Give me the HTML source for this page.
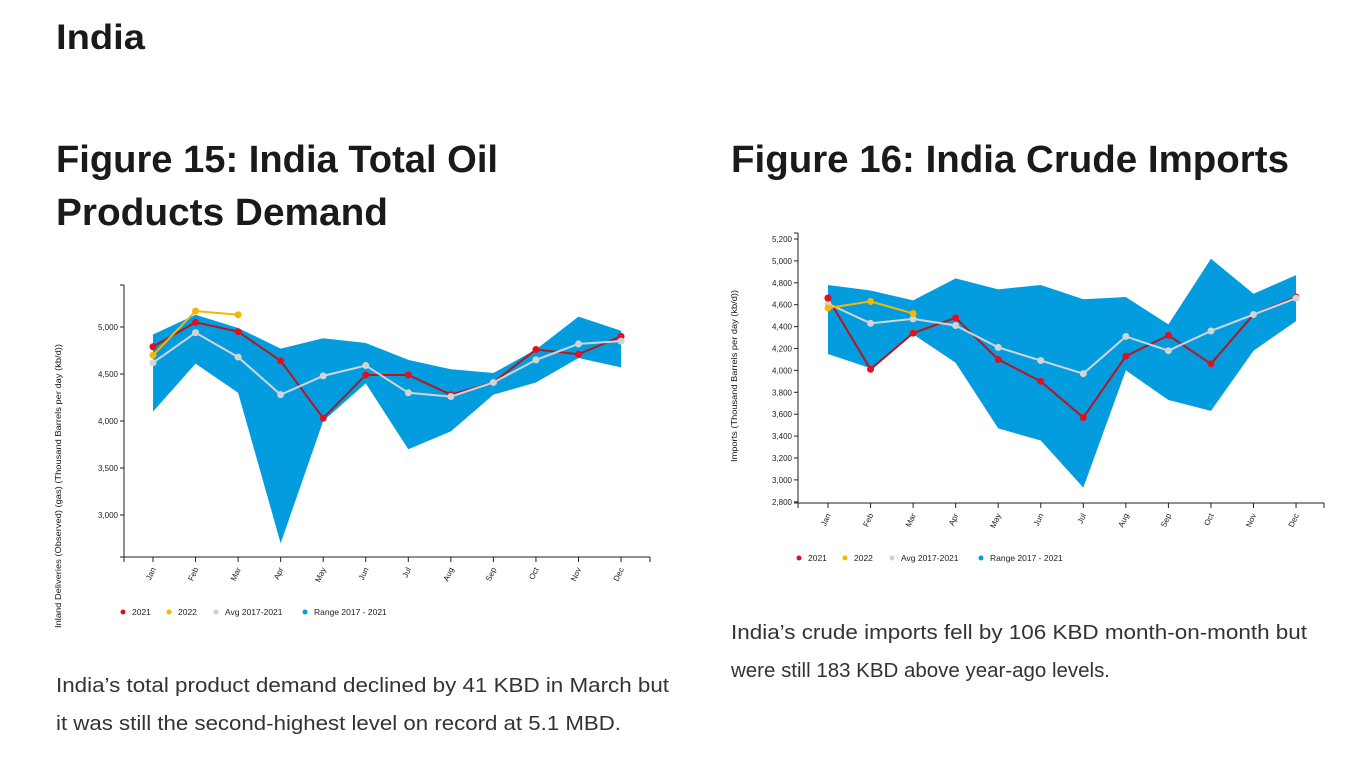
<!DOCTYPE html>
<html><head><meta charset="utf-8"><style>
html,body{margin:0;padding:0;background:#fff;}
svg{display:block;font-family:"Liberation Sans",sans-serif;}
</style></head><body>
<svg id="page" width="1358" height="777" viewBox="0 0 1358 777">
<text x="56" y="49" font-size="35" font-weight="bold" fill="#1a1a1a" textLength="89" lengthAdjust="spacingAndGlyphs">India</text>
<text x="56" y="172" font-size="38" font-weight="bold" fill="#1a1a1a" textLength="442" lengthAdjust="spacingAndGlyphs">Figure 15: India Total Oil</text>
<text x="56" y="225" font-size="38" font-weight="bold" fill="#1a1a1a" textLength="332" lengthAdjust="spacingAndGlyphs">Products Demand</text>
<text x="731" y="172" font-size="38" font-weight="bold" fill="#1a1a1a" textLength="558" lengthAdjust="spacingAndGlyphs">Figure 16: India Crude Imports</text>
<text x="56" y="692" font-size="20" fill="#333" textLength="613" lengthAdjust="spacingAndGlyphs">India’s total product demand declined by 41 KBD in March but</text>
<text x="56" y="730" font-size="20" fill="#333" textLength="565" lengthAdjust="spacingAndGlyphs">it was still the second-highest level on record at 5.1 MBD.</text>
<text x="731" y="639" font-size="20" fill="#333" textLength="576" lengthAdjust="spacingAndGlyphs">India’s crude imports fell by 106 KBD month-on-month but</text>
<text x="731" y="677" font-size="20" fill="#333" textLength="379" lengthAdjust="spacingAndGlyphs">were still 183 KBD above year-ago levels.</text>
<g id="chart1"></g>
<g id="chart2"></g>
</svg>
<script>
const months = ["Jan","Feb","Mar","Apr","May","Jun","Jul","Aug","Sep","Oct","Nov","Dec"];
// Chart 1: demand
const c1Upper = [4920,5130,4990,4770,4880,4830,4650,4550,4510,4760,5110,4960];
const c1Lower = [4100,4610,4300,2700,4000,4400,3700,3890,4280,4410,4670,4570];
const c1Y2021 = [4790,5050,4950,4640,4030,4490,4490,4280,4410,4760,4710,4900];
const c1Y2022 = [4700,5170,5130];
const c1Avg = [4620,4940,4680,4280,4480,4590,4300,4260,4410,4650,4820,4850];
const c1Ticks = [3000,3500,4000,4500,5000];
// Chart 2: imports
const c2Upper = [4780,4730,4640,4840,4740,4780,4650,4670,4420,5020,4700,4870];
const c2Lower = [4150,4020,4330,4070,3470,3360,2930,4000,3730,3630,4180,4450];
const c2Y2021 = [4660,4010,4340,4480,4100,3900,3570,4130,4320,4060,4510,4670];
const c2Y2022 = [4570,4630,4520];
const c2Avg = [4610,4430,4470,4410,4210,4090,3970,4310,4180,4360,4510,4660];
const c2Ticks = [2800,3000,3200,3400,3600,3800,4000,4200,4400,4600,4800,5000,5200];
const legendLabels = ["2021","2022","Avg 2017-2021","Range 2017 - 2021"];
const legendColors = ["#e3101c","#f5b800","#d0d0d0","#039ddf"];

const NS="http://www.w3.org/2000/svg";
function mk(parent,tag,attrs){const e=document.createElementNS(NS,tag);for(const k in attrs)e.setAttribute(k,attrs[k]);parent.appendChild(e);return e;}

function drawChart(g,cfg){
  const xS=i=>cfg.x0+i*cfg.step;
  const yS=v=>cfg.yRef+(cfg.vRef-v)*cfg.pxPer;
  let d="M"+cfg.upper.map((v,i)=>xS(i)+","+yS(v)).join("L");
  for(let i=cfg.lower.length-1;i>=0;i--) d+="L"+xS(i)+","+yS(cfg.lower[i]);
  const area=mk(g,"path",{d:d+"Z",fill:"#039ddf"});
  
  
  function series(vals,color,name,lineColor){
    const l=mk(g,"polyline",{points:vals.map((v,i)=>xS(i)+","+yS(v)).join(" "),fill:"none",stroke:lineColor||color,"stroke-width":2});
    
    
    vals.forEach((v,i)=>{const c=mk(g,"circle",{cx:xS(i),cy:yS(v),r:3.5,fill:color});
      
      });
  }
  series(cfg.y2021,"#e3101c","series-2021","#b5161f");
  series(cfg.avg,"#d4d4d4","series-avg");
  series(cfg.y2022,"#f5b800","series-2022");
  if(cfg.redOnTopFirst){const c=mk(g,"circle",{cx:xS(0),cy:yS(cfg.y2021[0]),r:3.5,fill:"#e3101c"});
    
    }
  const ya=mk(g,"line",{x1:cfg.ax,y1:cfg.axTop,x2:cfg.ax,y2:cfg.axBot,stroke:"#222","stroke-width":1});
  
  
  const xa=mk(g,"line",{x1:cfg.ax-4,y1:cfg.axBot,x2:cfg.axRight,y2:cfg.axBot,stroke:"#222","stroke-width":1});
  
  
  mk(g,"line",{x1:cfg.axRight,y1:cfg.axBot,x2:cfg.axRight,y2:cfg.axBot+5,stroke:"#222"});
  mk(g,"line",{x1:cfg.ax,y1:cfg.axBot,x2:cfg.ax,y2:cfg.axBot+5,stroke:"#222"});
  mk(g,"line",{x1:cfg.ax-4,y1:cfg.axTop,x2:cfg.ax,y2:cfg.axTop,stroke:"#222"});
  cfg.ticks.forEach(t=>{const y=yS(t);
    mk(g,"line",{x1:cfg.ax-4,y1:y,x2:cfg.ax,y2:y,stroke:"#222"});
    const tx=mk(g,"text",{x:cfg.ax-6,y:y+3,"font-size":8,"text-anchor":"end",fill:"#222"});
    tx.textContent=t.toLocaleString("en-US");
    
    });
  months.forEach((m,i)=>{const x=xS(i);
    mk(g,"line",{x1:x,y1:cfg.axBot,x2:x,y2:cfg.axBot+5,stroke:"#222"});
    const tx=mk(g,"text",{x:x+3,y:cfg.axBot+12,"font-size":8,"text-anchor":"end",fill:"#222",transform:`rotate(-65 ${x+3} ${cfg.axBot+12})`});
    tx.textContent=m;
    
    });
  const yt=mk(g,"text",{x:cfg.titleX,y:cfg.titleY,"font-size":8.5,"text-anchor":"middle",fill:"#111",textLength:cfg.titleLen,lengthAdjust:"spacingAndGlyphs",transform:`rotate(-90 ${cfg.titleX} ${cfg.titleY})`});
  yt.textContent=cfg.title;
  
  
  const lx=[0,46,93,182];
  legendLabels.forEach((lab,i)=>{
    const lg=mk(g,"g",{});
    
    
    mk(lg,"circle",{cx:cfg.legX+lx[i],cy:cfg.legY-3,r:2.5,fill:legendColors[i]});
    const t=mk(lg,"text",{x:cfg.legX+lx[i]+9,y:cfg.legY,"font-size":8.5,fill:"#222"});
    t.textContent=lab;
  });
}
drawChart(document.getElementById("chart1"),{upper:c1Upper,lower:c1Lower,y2021:c1Y2021,y2022:c1Y2022,avg:c1Avg,ticks:c1Ticks,
  x0:153,step:42.55,yRef:327,vRef:5000,pxPer:47/500,ax:124,axTop:285,axBot:557,axRight:650,
  title:"Inland Deliveries (Observed) (gas) (Thousand Barrels per day (kb/d))",titleX:61,titleY:486,titleLen:284,legX:123,legY:615});
drawChart(document.getElementById("chart2"),{upper:c2Upper,lower:c2Lower,y2021:c2Y2021,y2022:c2Y2022,avg:c2Avg,ticks:c2Ticks,
  x0:828,step:42.55,yRef:239,vRef:5200,pxPer:21.9/200,ax:798,axTop:233,axBot:503,axRight:1324,
  title:"Imports (Thousand Barrels per day (kb/d))",titleX:737,titleY:376,titleLen:172,legX:799,legY:561,redOnTopFirst:true});
</script>
</body></html>
